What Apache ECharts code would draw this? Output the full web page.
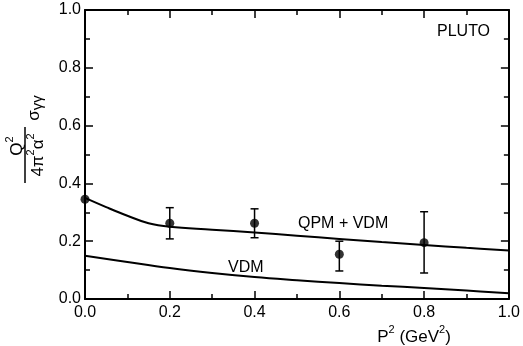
<!DOCTYPE html>
<html>
<head>
<meta charset="utf-8">
<script src="https://cdn.jsdelivr.net/npm/echarts@6/dist/echarts.min.js"></script>
<style>
  html, body { margin: 0; padding: 0; background: #fff; }
  #chart { width: 523px; height: 346px; }
</style>
</head>
<body>
<div id="chart"></div>
<script>
// measured points, P^2 in GeV^2
const dataP2 = [0.0, 0.2, 0.4, 0.6, 0.8];
const dataSigma = [0.345, 0.262, 0.262, 0.155, 0.195];
const errLow = [0.345, 0.208, 0.212, 0.097, 0.09];
const errHigh = [0.345, 0.316, 0.312, 0.2, 0.302];

// theory curves
const curveP2 = [0.0, 0.05, 0.1, 0.15, 0.2, 0.3, 0.4, 0.5, 0.6, 0.7, 0.8, 0.9, 1.0];
const qpmVdm = [0.35, 0.318, 0.288, 0.262, 0.25, 0.24, 0.23, 0.219, 0.208, 0.197, 0.187, 0.177, 0.168];
const vdmP2 = [0.0, 0.1, 0.2, 0.3, 0.4, 0.5, 0.6, 0.7, 0.8, 0.9, 1.0];
const vdm = [0.15, 0.128, 0.107, 0.09, 0.076, 0.065, 0.055, 0.046, 0.038, 0.029, 0.02];

const FONT = "Liberation Sans";
const chart = echarts.init(document.getElementById("chart"));

const pair = (xs, ys) => xs.map((x, i) => [x, ys[i]]);

const richText = {
  n: {fontFamily: FONT, fontSize: 17, color: "#000", lineHeight: 22, verticalAlign: "bottom"},
  s: {fontFamily: FONT, fontSize: 11, color: "#000", lineHeight: 22, verticalAlign: "top"},
};

function axisCommon(showLabels) {
  return {
    type: "value",
    min: 0,
    max: 1,
    interval: 0.2,
    axisLine: {show: true, onZero: false, lineStyle: {color: "#000", width: 2}},
    axisTick: {show: true, inside: true, length: 8, lineStyle: {color: "#000", width: 1.5}},
    minorTick: {show: true, splitNumber: 2, length: 5, lineStyle: {color: "#000", width: 1.5}},
    splitLine: {show: false},
    axisLabel: {
      show: showLabels,
      color: "#000",
      fontFamily: FONT,
      fontSize: 16,
      formatter: (v) => v.toFixed(1),
    },
  };
}

const option = {
  animation: false,
  backgroundColor: "#fff",
  grid: {left: 85, right: 6, top: 10, bottom: 47},
  xAxis: [
    {...axisCommon(true), position: "bottom", axisLabel: {...axisCommon(true).axisLabel, margin: 6},
      name: "{n|P}{s|2}{n| (GeV}{s|2}{n|)}", nameLocation: "end", nameGap: 0,
      nameTextStyle: {align: "right", verticalAlign: "top", padding: [25, 58, 0, 0], rich: richText}},
    {...axisCommon(false), position: "top"},
  ],
  yAxis: [
    {...axisCommon(true), position: "left", axisLabel: {...axisCommon(true).axisLabel, margin: 4}},
    {...axisCommon(false), position: "right"},
  ],
  graphic: [
    {
      type: "group",
      x: 25, y: 155,
      rotation: Math.PI / 2,
      children: [
        {type: "line", shape: {x1: -28, y1: 0, x2: 28, y2: 0}, style: {stroke: "#000", lineWidth: 1.5}},
        {type: "text", x: 9, y: -10, style: {text: "{n|Q}{s|2}", rich: richText, align: "center", verticalAlign: "middle"}},
        {type: "text", x: 0, y: 11, style: {text: "{n|4\u03c0}{s|2}{n|\u03b1}{s|2}", rich: richText, align: "center", verticalAlign: "middle"}},
        {type: "text", x: 47, y: 9, style: {text: "{n|\u03c3}{s|\u03b3\u03b3}", rich: {
          n: {fontFamily: FONT, fontSize: 17, color: "#000", lineHeight: 22, verticalAlign: "middle"},
          s: {fontFamily: FONT, fontSize: 15, color: "#000", lineHeight: 22, verticalAlign: "bottom"},
        }, align: "center", verticalAlign: "middle"}},
      ],
    },
    {type: "text", x: 437, y: 24, style: {text: "PLUTO", font: "16px " + FONT, fill: "#000"}},
    {type: "text", x: 298, y: 216, style: {text: "QPM + VDM", font: "16px " + FONT, fill: "#000"}},
    {type: "text", x: 228, y: 260, style: {text: "VDM", font: "16px " + FONT, fill: "#000"}},
  ],
  series: [
    {
      name: "QPM + VDM",
      type: "line",
      data: pair(curveP2, qpmVdm),
      smooth: 0.4,
      showSymbol: false,
      lineStyle: {color: "#000", width: 2},
    },
    {
      name: "VDM",
      type: "line",
      data: pair(vdmP2, vdm),
      smooth: 0.4,
      showSymbol: false,
      lineStyle: {color: "#000", width: 2},
    },
    {
      name: "errors",
      type: "custom",
      data: dataP2.map((x, i) => [x, errLow[i], errHigh[i]]),
      renderItem: (params, api) => {
        const lo = api.coord([api.value(0), api.value(1)]);
        const hi = api.coord([api.value(0), api.value(2)]);
        if (Math.abs(lo[1] - hi[1]) < 1) {return null;}
        const cap = 4;
        const st = {stroke: "#000", lineWidth: 1.5};
        return {
          type: "group",
          children: [
            {type: "line", shape: {x1: lo[0], y1: lo[1], x2: hi[0], y2: hi[1]}, style: st},
            {type: "line", shape: {x1: lo[0] - cap, y1: lo[1], x2: lo[0] + cap, y2: lo[1]}, style: st},
            {type: "line", shape: {x1: hi[0] - cap, y1: hi[1], x2: hi[0] + cap, y2: hi[1]}, style: st},
          ],
        };
      },
    },
    {
      name: "data",
      type: "scatter",
      data: pair(dataP2, dataSigma),
      symbol: "circle",
      symbolSize: 9,
      itemStyle: {color: "#000"},
      z: 5,
    },
  ],
};

chart.setOption(option);
</script>
</body>
</html>
